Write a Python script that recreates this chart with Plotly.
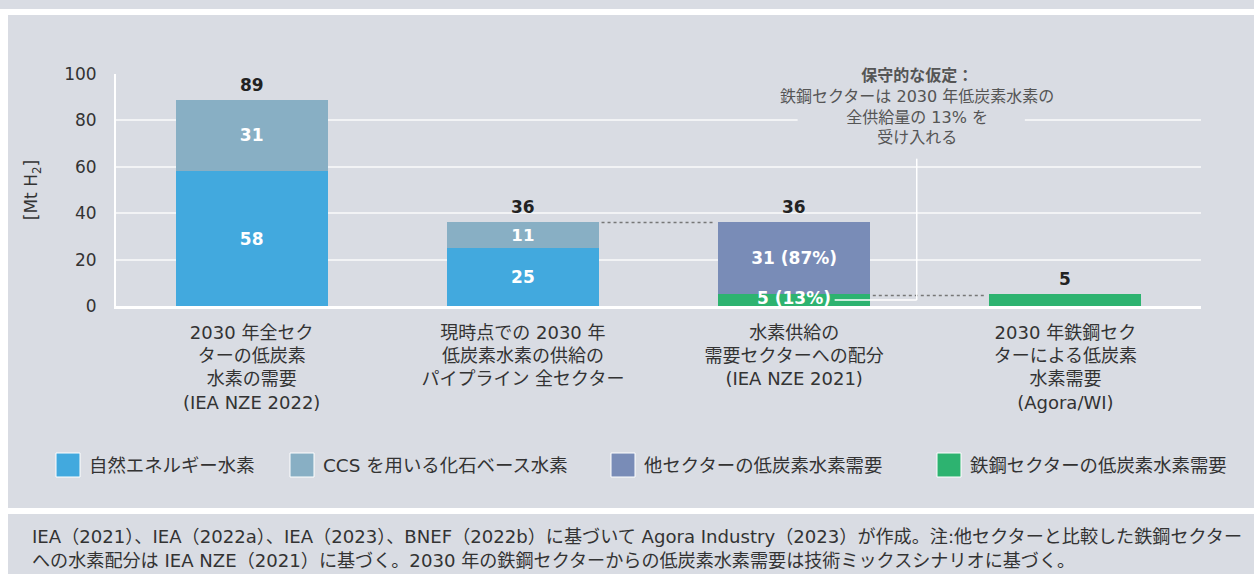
import plotly.graph_objects as go

# ---------------- data ----------------
categories = [
    "2030 年全セク<br>ターの低炭素<br>水素の需要<br>(IEA NZE 2022)",
    "現時点での 2030 年<br>低炭素水素の供給の<br>パイプライン 全セクター",
    "水素供給の<br>需要セクターへの配分<br>(IEA NZE 2021)",
    "2030 年鉄鋼セク<br>ターによる低炭素<br>水素需要<br>(Agora/WI)",
]
series_names = [
    "自然エネルギー水素",
    "CCS を用いる化石ベース水素",
    "他セクターの低炭素水素需要",
    "鉄鋼セクターの低炭素水素需要",
]
renewable = [58, 25, None, None]
ccs_fossil = [31, 11, None, None]
other_sectors = [None, None, 31, None]
steel_sector = [None, None, 5, 5]

renewable_labels = ["58", "25", "", ""]
ccs_labels = ["31", "11", "", ""]
other_labels = ["", "", "31 (87%)", ""]
steel_share_label = "5 (13%)"
totals = [89, 36, 36, 5]

y_ticks = [0, 20, 40, 60, 80, 100]
y_title = "[Mt H<sub>2</sub>]"
note_title = "保守的な仮定："
note_lines = ["鉄鋼セクターは 2030 年低炭素水素の", "全供給量の 13% を", "受け入れる"]
footnote_lines = [
    "IEA（2021）、IEA（2022a）、IEA（2023）、BNEF（2022b）に基づいて Agora Industry（2023）が作成。注:他セクターと比較した鉄鋼セクター",
    "への水素配分は IEA NZE（2021）に基づく。2030 年の鉄鋼セクターからの低炭素水素需要は技術ミックスシナリオに基づく。",
]

# ---------------- style ----------------
W, H = 1254, 574
ML, MR, MT, MB = 116, 53, 74, 268
PW, PH = W - ML - MR, H - MT - MB
BG = "#D9DCE3"
colors = ["#42A9DE", "#88AFC4", "#798CB7", "#2DB370"]
FONT = "DejaVu Sans, Noto Sans CJK JP, sans-serif"
BAR_W = 0.56


def px_x(px):
    return (px - ML) / PW


def px_y(py):
    return (H - MB - py) / PH


fig = go.Figure()
stack = [
    (renewable, renewable_labels, 0),
    (ccs_fossil, ccs_labels, 1),
    (steel_sector, ["", "", "", ""], 3),
    (other_sectors, other_labels, 2),
]
for vals, labels, ci in stack:
    fig.add_trace(go.Bar(
        x=categories, y=vals, name=series_names[ci], text=labels,
        textposition="inside", insidetextanchor="middle",
        textfont=dict(color="white", size=17, family=FONT, weight="bold"),
        marker=dict(color=colors[ci], line=dict(width=0)),
        width=BAR_W, showlegend=False, hoverinfo="skip",
    ))

# totals above bars
for c, t in zip(categories, totals):
    fig.add_annotation(x=c, y=t, text=f"<b>{t}</b>", showarrow=False,
                       yanchor="bottom", yshift=3,
                       font=dict(size=17, color="#222222", family=FONT))

# steel share label at bottom of third bar
fig.add_annotation(x=categories[2], y=0, text=f"<b>{steel_share_label}</b>",
                   showarrow=False, yanchor="middle", yshift=8,
                   font=dict(size=17, color="white", family=FONT))

# dotted connectors
fig.add_shape(type="line", x0=1 + BAR_W / 2 + 0.01, x1=2 - BAR_W / 2 - 0.01,
              y0=totals[1], y1=totals[2],
              line=dict(color="#777777", width=1.5, dash="dot"))
fig.add_shape(type="line", x0=2 + BAR_W / 2 + 0.01, x1=3 - BAR_W / 2 - 0.01,
              y0=4.5, y1=4.5,
              line=dict(color="#777777", width=1.5, dash="dot"))

# callout lines (white)
cx = (916 - ML) / 271 - 0.5
fig.add_shape(type="line", x0=(834 - ML) / 271 - 0.5, x1=cx, y0=2.6, y1=2.6,
              line=dict(color="white", width=1.5), layer="above")
fig.add_shape(type="line", x0=cx, x1=cx, y0=2.6, y1=63.5,
              line=dict(color="white", width=1.5), layer="above")

# background box behind note (interrupts gridlines)
fig.add_shape(type="rect", x0=(797 - ML) / 271 - 0.5, x1=(1024 - ML) / 271 - 0.5,
              y0=75, y1=101, fillcolor=BG, line=dict(width=0), layer="between")

note_text = f"<b>{note_title}</b><br>" + "<br>".join(note_lines)
fig.add_annotation(x=cx, y=px_y(64), yref="paper", text=note_text, showarrow=False,
                   yanchor="top", xanchor="center", align="center",
                   font=dict(size=16, color="#555555", family=FONT))

# manual legend
legend_order = [0, 1, 2, 3]
legend_x = [56, 290, 611, 937]
for lx, si in zip(legend_x, legend_order):
    fig.add_shape(type="rect", xref="paper", yref="paper",
                  x0=px_x(lx), x1=px_x(lx + 24), y0=px_y(453), y1=px_y(477),
                  fillcolor=colors[si], line=dict(color="white", width=1))
    fig.add_annotation(xref="paper", yref="paper", x=px_x(lx + 31), y=px_y(465),
                       text=series_names[si], showarrow=False, xanchor="left",
                       yanchor="middle", font=dict(size=18.4, color="#333333", family=FONT))

# panel separators
fig.add_shape(type="rect", xref="paper", yref="paper", x0=px_x(-5), x1=px_x(8),
              y0=px_y(15), y1=px_y(H + 5), fillcolor="white", line=dict(width=0),
              layer="below")
fig.add_shape(type="rect", xref="paper", yref="paper", x0=px_x(0), x1=px_x(W + 5),
              y0=px_y(15), y1=px_y(9), fillcolor="white", line=dict(width=0),
              layer="below")
fig.add_shape(type="rect", xref="paper", yref="paper", x0=px_x(0), x1=px_x(W + 5),
              y0=px_y(514), y1=px_y(508), fillcolor="white", line=dict(width=0),
              layer="below")

# footnote
fig.add_annotation(xref="paper", yref="paper", x=px_x(30), y=px_y(548),
                   text="<br>".join(footnote_lines), showarrow=False,
                   xanchor="left", yanchor="middle", align="left",
                   font=dict(size=18.1, color="#333333", family=FONT))

fig.update_layout(
    width=W, height=H, barmode="stack",
    margin=dict(l=ML, r=MR, t=MT, b=MB, pad=0),
    paper_bgcolor=BG, plot_bgcolor=BG,
    font=dict(family=FONT, color="#333333"),
    showlegend=False, bargap=0.44,
)
fig.update_xaxes(
    type="category", range=[-0.5, 3.5], showgrid=False,
    showline=True, linecolor="white", linewidth=3,
    ticks="outside", ticklen=8, tickcolor="rgba(0,0,0,0)",
    tickfont=dict(size=18, color="#333333", family=FONT),
)
fig.update_yaxes(
    range=[0, 100], tickvals=y_ticks, showgrid=True, gridcolor="#F2F3F5",
    gridwidth=2, zeroline=False, showline=True, linecolor="white", linewidth=2,
    ticks="outside", ticklen=14, tickcolor="rgba(0,0,0,0)",
    tickfont=dict(size=17, color="#333333", family=FONT),
    title=dict(text=y_title, standoff=22, font=dict(size=17, color="#333333", family=FONT)),
)

fig.write_html(
    "out.html",
    config={"displayModeBar": False},
    post_script="document.body.style.margin='0';document.body.style.overflow='hidden';",
)
